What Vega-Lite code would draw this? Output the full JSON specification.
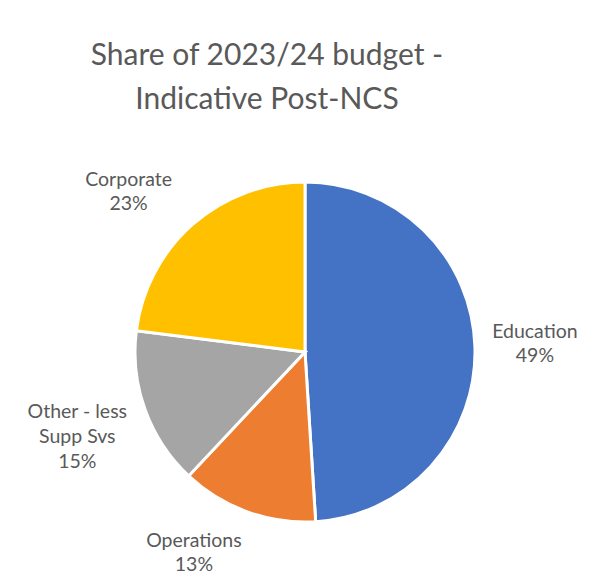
{
  "$schema": "https://vega.github.io/schema/vega-lite/v6.json",
  "width": 596,
  "height": 576,
  "autosize": {"type": "fit", "contains": "padding"},
  "padding": {"left": 14, "top": 41, "right": 0, "bottom": 0},
  "background": "white",
  "view": {"stroke": null},
  "title": {
    "text": ["Share of 2023/24 budget -", "Indicative Post-NCS"],
    "font": "Lato",
    "fontSize": 30,
    "fontWeight": "normal",
    "color": "#595959",
    "lineHeight": 44,
    "dx": -38,
    "offset": 13
  },
  "data": {
    "values": [
      {"category": "Education", "value": 49, "order": 1, "label": "Education\n49%"},
      {"category": "Operations", "value": 13, "order": 2, "label": "Operations\n13%"},
      {"category": "Other - less Supp Svs", "value": 15, "order": 3, "label": "Other - less\nSupp Svs\n15%"},
      {"category": "Corporate", "value": 23, "order": 4, "label": "Corporate\n23%"}
    ]
  },
  "encoding": {
    "theta": {"field": "value", "type": "quantitative", "stack": true},
    "order": {"field": "order", "type": "quantitative", "sort": "ascending"}
  },
  "layer": [
    {
      "mark": {"type": "arc", "outerRadius": 170, "stroke": "white", "strokeWidth": 3},
      "encoding": {
        "color": {
          "field": "category",
          "type": "nominal",
          "scale": {
            "domain": ["Education", "Operations", "Other - less Supp Svs", "Corporate"],
            "range": ["#4472C4", "#ED7D31", "#A5A5A5", "#FFC000"]
          },
          "legend": null
        }
      }
    },
    {
      "mark": {"type": "text", "radius": 230, "dy": -13, "font": "Lato", "fontSize": 19.5, "color": "#595959", "lineBreak": "\n", "lineHeight": 24.5, "align": "center", "baseline": "middle"},
      "encoding": {
        "detail": {"field": "category", "type": "nominal"},
        "text": {"condition": {"test": "datum.category === 'Education'", "field": "label"}, "value": ""}
      }
    },
    {
      "mark": {"type": "text", "radius": 204, "dx": -42, "dy": -3, "font": "Lato", "fontSize": 19.5, "color": "#595959", "lineBreak": "\n", "lineHeight": 24, "align": "center", "baseline": "middle"},
      "encoding": {
        "detail": {"field": "category", "type": "nominal"},
        "text": {"condition": {"test": "datum.category === 'Operations'", "field": "label"}, "value": ""}
      }
    },
    {
      "mark": {"type": "text", "radius": 242, "dy": -22, "font": "Lato", "fontSize": 19.5, "color": "#595959", "lineBreak": "\n", "lineHeight": 25, "align": "center", "baseline": "middle"},
      "encoding": {
        "detail": {"field": "category", "type": "nominal"},
        "text": {"condition": {"test": "datum.category === 'Other - less Supp Svs'", "field": "label"}, "value": ""}
      }
    },
    {
      "mark": {"type": "text", "radius": 235, "dx": -21, "dy": 4, "font": "Lato", "fontSize": 19.5, "color": "#595959", "lineBreak": "\n", "lineHeight": 24, "align": "center", "baseline": "middle"},
      "encoding": {
        "detail": {"field": "category", "type": "nominal"},
        "text": {"condition": {"test": "datum.category === 'Corporate'", "field": "label"}, "value": ""}
      }
    }
  ]
}
